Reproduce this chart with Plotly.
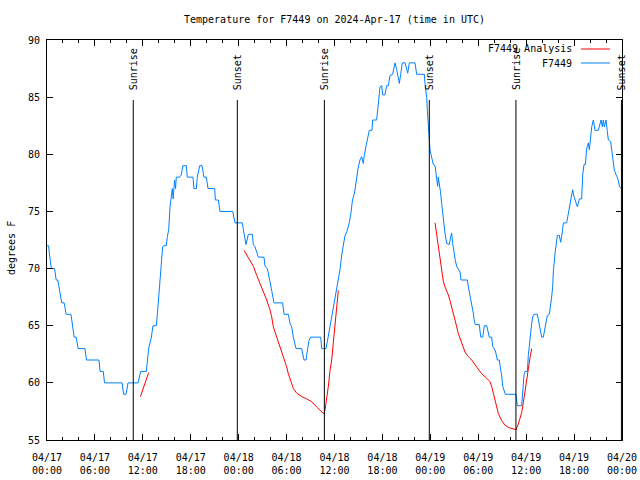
import pandas as pd
import plotly.graph_objects as go

# ---------------- data (hours after 2024-04-17 00:00 UTC) ----------------
blue_hours = [0.0, 0.2, 0.35, 0.55, 0.95, 1.15, 1.35, 1.6, 1.85, 2.15, 2.4, 3.0, 3.2, 3.4, 3.65, 3.9,
              4.75, 4.95, 6.5, 6.65, 7.05, 7.2, 9.4, 9.6, 9.9, 10.15, 11.4,
              11.52, 11.73, 12.44, 12.56, 12.73, 12.9, 13.07, 13.27, 13.69, 13.82, 13.98, 14.15, 14.32,
              14.48, 14.6, 14.94, 15.07, 15.24, 15.4, 15.57, 15.69, 15.8, 15.98, 16.1, 16.19, 16.6,
              16.82, 17.0, 17.44, 17.57, 18.28, 18.4, 18.7, 18.82, 19.12, 19.41, 19.66, 19.95, 20.16,
              21.0, 21.08, 21.33,
              21.45, 21.66, 23.25, 23.54, 24.46, 24.59, 24.79, 24.92, 25.05, 25.21, 25.71, 25.84, 26.05,
              26.26, 26.46, 27.17, 27.3, 27.6, 27.92, 28.13, 28.42, 29.51, 29.68, 30.22, 30.43, 30.64,
              30.84, 31.05, 31.18,
              31.89, 32.05, 32.18, 32.43, 32.6, 32.8, 33.02, 34.27, 34.4, 34.94, 35.1, 35.27, 35.44,
              35.65, 35.85, 36.06, 36.28, 36.48, 36.69, 36.9, 37.11, 37.32, 37.53, 37.85, 38.05, 38.25,
              38.5, 38.78, 38.98, 39.19, 39.4, 39.61, 39.7, 39.94, 40.11, 40.36,
              40.7, 40.78, 41.28, 41.49, 41.7, 41.91, 42.03, 42.32, 42.53, 42.74, 42.95, 43.28, 43.58,
              43.79, 43.99, 44.12, 44.29, 44.49, 44.83, 45.04, 45.17, 45.37, 46.08, 46.29, 47.25, 47.33,
              47.54, 47.62, 47.75, 47.87, 47.96, 48.08, 48.37, 48.59, 48.71, 48.79, 48.92, 49.0, 49.12,
              49.29, 49.42, 49.54, 49.71, 49.84, 50.05, 50.38, 50.55, 50.67, 50.8, 50.97, 51.13, 51.3,
              51.51, 51.72, 51.84, 52.64, 52.76, 52.97, 53.18, 53.38, 53.51, 53.63, 54.13, 54.31, 54.56,
              54.76, 55.06, 55.26, 55.38, 55.68, 55.81, 56.01, 56.18, 56.39, 56.64, 56.81, 56.93, 57.06,
              57.23, 57.39, 58.73, 58.81, 58.89, 59.44, 59.57, 59.73, 59.86, 60.15, 60.27, 60.4, 60.57,
              60.69, 60.82, 60.98, 61.4, 61.52, 61.65, 61.82, 61.94, 62.15, 62.28, 62.48, 62.65, 62.9,
              63.07, 63.19, 63.32, 63.4, 63.61, 63.74, 63.9, 64.15, 64.32, 64.45, 64.57, 64.66, 65.07,
              65.28, 65.49, 65.7, 65.82, 65.99, 66.24, 66.41, 66.53, 66.66, 66.95, 67.08, 67.24, 67.41,
              67.58, 67.79, 67.91, 68.08, 68.21, 68.41, 68.62, 69.04, 69.25, 69.37, 69.54, 69.66, 69.79,
              70.0, 70.16, 70.29, 70.58, 70.7, 70.91, 71.04, 71.25, 71.41, 71.54, 71.67, 71.9]
blue_temps = [72, 72, 71, 70, 70, 69, 69, 68, 67, 67, 66, 66, 65, 64, 64, 63,
              63, 62, 62, 61, 61, 60, 60, 59, 59, 60, 60,
              60.5, 61, 61, 62, 63, 63.5, 64, 65, 65, 66, 67.5, 68.6, 70.5,
              71.9, 72, 72, 72.8, 73.4, 75.4, 76.6, 77, 76.1, 77.75, 77, 78, 78,
              78.2, 79, 79, 78, 78, 77, 77, 78, 79, 79, 78, 78, 77,
              77, 76, 76,
              76, 75, 75, 74, 74, 73.4, 72.5, 72.1, 72.5, 73, 73, 72.1, 71.9,
              71.3, 71, 71, 70.2, 70, 69, 68.1, 67, 67, 66, 66, 65.2, 64.9,
              64, 63.2, 63,
              63, 62.5, 62, 62, 63, 63.7, 64, 64, 63, 63, 63.6, 64.3, 65,
              65.8, 66.7, 67.5, 68.3, 69, 69.9, 71.2, 72.2, 72.9, 73.2, 74, 74.8, 76,
              76.6, 78, 78.9, 79.5, 79.8, 79.2, 79.8, 80.7, 81.2, 82.1,
              82.1, 83, 83, 84.5, 85.9, 86, 85.2, 85.2, 86, 86, 86.9, 87, 88,
              87.4, 86.5, 86.2, 87, 88, 88, 87.4, 87.1, 88, 88, 87, 87, 86.2,
              85, 83.9, 82.5, 81.8, 80.4, 80, 79.1, 79, 78.3, 77.7, 77.2, 78, 77.5,
              76.6, 75.7, 74.8, 73.7, 73.1, 72.2, 72.1, 72.8, 73.1, 72.2, 71.3, 70.7, 70.2,
              70, 69.7, 69, 69, 68.4, 67.7, 66.8, 66.1, 65.4, 65.1, 65.1, 64, 64,
              65, 65, 64.5, 64, 64, 63.2, 63, 62.7, 62, 62, 61.1, 60.7, 59.7,
              59.2, 59, 59, 58.2, 58, 58, 59.4, 60.7, 61, 61, 62.4, 63.4, 64.3,
              65.2, 65.8, 66, 66, 65.5, 64.9, 64.3, 64, 64, 64.6, 65.5, 65.9, 66,
              66.7, 67.5, 68.4, 69.7, 71.3, 72.3, 72.9, 72.9, 72.3, 72.8, 73.7, 74, 74,
              74.8, 75.7, 76.3, 76.9, 76.3, 75.7, 75.4, 75.7, 76.1, 76.1, 78.2, 79.1, 79.1,
              80.5, 81, 80.4, 81.8, 82.4, 83, 82.1, 82.1, 82.6, 83, 82.4, 83, 82.4,
              83, 82, 81.25, 81.1, 80.5, 79.5, 78.6, 78.2, 78, 77.7, 77.2, 77]

red_hours = [11.7, 12.2, 12.73, None,
             24.67, 25.0, 25.42, 25.84, 26.26, 26.67, 27.09, 27.51, 27.92, 28.13, 28.34, 28.76, 29.18,
             29.59, 30.01, 30.22, 30.43, 30.64, 30.85, 31.26, 31.89, 32.51, 33.14, 33.76, 34.4, 34.65,
             34.81, 35.02, 35.23, 35.44, 35.65, 35.85, 36.06, 36.28, 36.48, None,
             48.59, 48.79, 49.0, 49.21, 49.42, 49.62, 49.84, 50.05, 50.25, 50.46, 50.67, 50.88, 51.09,
             51.3, 51.51, 51.93, 52.34, 52.76, 53.18, 53.8, 54.43, 55.06, 55.47, 55.68, 55.89, 56.22,
             56.52, 56.93, 57.35, 57.77, 58.19, 58.6, 58.73, 59.02, 59.23, 59.44, 59.65, 59.86, 60.06,
             60.27, 60.48, 60.69]
red_temps = [58.8, 59.9, 60.9, None,
             71.6, 71.2, 70.75, 70.2, 69.4, 68.7, 68.0, 67.25, 66.4, 65.8, 64.9, 64.0, 63.2,
             62.4, 61.4, 60.8, 60.3, 59.9, 59.5, 59.1, 58.8, 58.6, 58.35, 57.9, 57.5, 57.3,
             57.6, 58.5, 59.7, 61.1, 62.0, 63.5, 64.9, 66.5, 68.1, None,
             74.0, 73.0, 71.6, 70.9, 69.7, 68.9, 68.4, 68.1, 67.7, 67.2, 66.7, 66.1, 65.5,
             64.9, 64.3, 63.5, 62.7, 62.3, 62.0, 61.4, 60.8, 60.4, 60.1, 59.7, 59.1, 58.1,
             57.3, 56.7, 56.3, 56.1, 56.0, 55.9, 55.9, 56.4, 56.9, 57.4, 58.3, 59.4, 60.2,
             61.1, 62.2, 63.0]

sunrise_hours = [10.8, 34.73, 58.72]
sunset_hours = [23.83, 47.87, 71.93]

series_names = ["F7449 Analysis", "F7449"]
series_colors = ["#ff0000", "#0080ff"]

base = pd.Timestamp("2024-04-17 00:00")


def to_time(hours):
    return [None if h is None else base + pd.Timedelta(hours=h) for h in hours]


FONT = "DejaVu Sans Mono"
FIG_W, FIG_H = 640, 480
L, R, T, B = 47, 18, 40, 40
W, H = float(FIG_W - L - R), float(FIG_H - T - B)


def px_x(page_x):
    return (page_x - L) / W


def px_y(page_y):
    return ((FIG_H - B) - page_y) / H


fig = go.Figure()
fig.add_trace(go.Scatter(x=to_time(red_hours), y=red_temps, mode="lines", name=series_names[0],
                         line=dict(color=series_colors[0], width=1), connectgaps=False,
                         showlegend=False))
fig.add_trace(go.Scatter(x=to_time(blue_hours), y=blue_temps, mode="lines", name=series_names[1],
                         line=dict(color=series_colors[1], width=1), showlegend=False))

shapes = []
annotations = []
for label, hours in (("Sunrise", sunrise_hours), ("Sunset", sunset_hours)):
    for h in hours:
        t = base + pd.Timedelta(hours=h)
        shapes.append(dict(type="line", xref="x", yref="paper", x0=t, x1=t, y0=0, y1=0.85,
                           line=dict(color="black", width=1)))
        annotations.append(dict(x=t, y=0.87, xref="x", yref="paper", text=label, textangle=-90,
                                showarrow=False, xanchor="center", yanchor="bottom",
                                font=dict(family=FONT, size=10, color="black")))

# legend (gnuplot style: text then sample line)
for i, (name, col) in enumerate(zip(series_names, series_colors)):
    yp = px_y(49 + 14 * i)
    annotations.append(dict(x=px_x(574), y=yp, xref="paper", yref="paper", text=name,
                            showarrow=False, xanchor="right", yanchor="middle",
                            font=dict(family=FONT, size=10, color="black")))
    shapes.append(dict(type="line", xref="paper", yref="paper", x0=px_x(581), x1=px_x(610),
                       y0=yp, y1=yp, line=dict(color=col, width=1)))

annotations.append(dict(x=px_x(11), y=px_y(248), xref="paper", yref="paper", text="degrees F",
                        textangle=-90, showarrow=False, xanchor="center", yanchor="middle",
                        font=dict(family=FONT, size=10, color="black")))

fig.update_layout(
    width=FIG_W, height=FIG_H,
    margin=dict(l=L, r=R, t=T, b=B, pad=0, autoexpand=False),
    paper_bgcolor="white", plot_bgcolor="white",
    font=dict(family=FONT, size=10, color="black"),
    title=dict(text="Temperature for F7449 on 2024-Apr-17 (time in UTC)", x=0.5, xref="paper",
               xanchor="center", y=1 - 19 / FIG_H, yanchor="middle",
               font=dict(family=FONT, size=10, color="black")),
    shapes=shapes, annotations=annotations, showlegend=False,
    xaxis=dict(type="date", range=[base, base + pd.Timedelta(hours=72)], automargin=False,
               tick0=base, dtick=6 * 3600 * 1000, tickformat="%m/%d<br>%H:%M",
               ticks="inside", ticklen=6, tickcolor="black", showline=True, linecolor="black",
               linewidth=1, mirror="ticks", showgrid=False, zeroline=False, ticklabelstandoff=8,
               minor=dict(dtick=2 * 3600 * 1000, ticks="inside", ticklen=3, tickcolor="black",
                          showgrid=False)),
    yaxis=dict(range=[55, 90], dtick=5, ticks="inside", ticklen=6, tickcolor="black",
               showline=True, linecolor="black", linewidth=1, mirror="ticks", showgrid=False,
               zeroline=False, ticklabelstandoff=4, automargin=False),
)

fig.write_html("out.html", config={"displayModeBar": False},
               post_script="document.body.style.margin='0';document.body.style.overflow='hidden';")
